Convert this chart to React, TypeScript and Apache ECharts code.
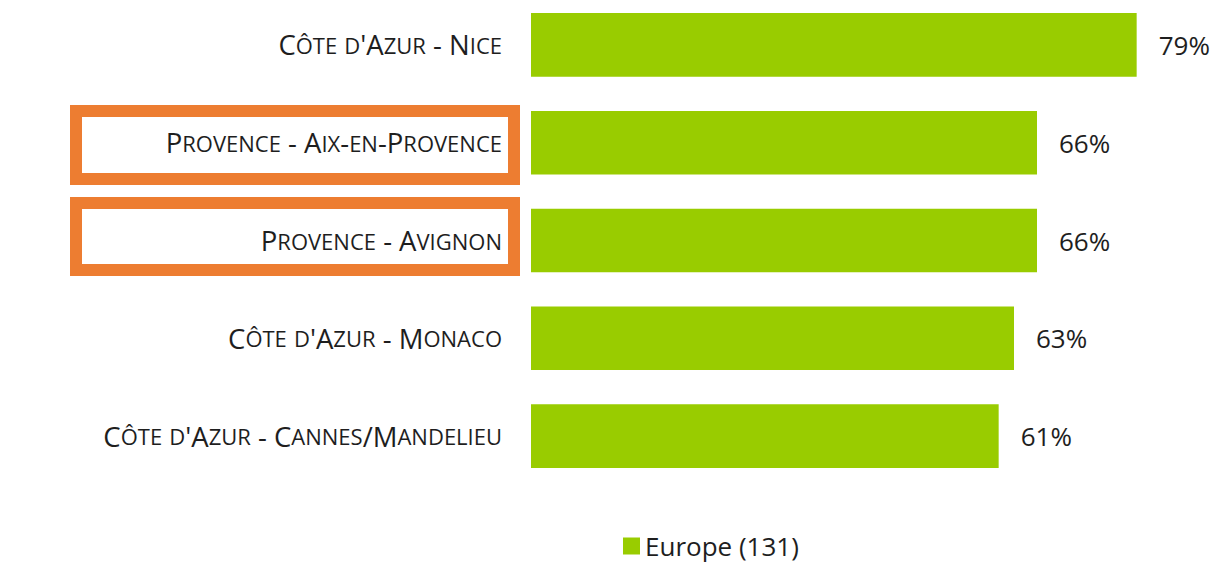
import React, { useEffect, useRef } from "react";
import * as echarts from "echarts";

const categories = [
  "Côte d'Azur - Nice",
  "Provence - Aix-en-Provence",
  "Provence - Avignon",
  "Côte d'Azur - Monaco",
  "Côte d'Azur - Cannes/Mandelieu",
];
const values = [79, 66, 66, 63, 61];
const seriesName = "Europe (131)";
const FONT = "'Open Sans', 'Noto Sans', sans-serif";

function smallCaps(s: string): string {
  let out = "";
  let cur = "";
  let curStyle = "";
  const flush = () => {
    if (cur) out += `{${curStyle}|${cur}}`;
    cur = "";
  };
  for (const ch of s) {
    const isLower = ch !== ch.toUpperCase();
    const st = isLower ? "s" : "b";
    if (st !== curStyle) {
      flush();
      curStyle = st;
    }
    cur += ch.toUpperCase();
  }
  flush();
  return out;
}

// the chart div is shifted up by 4px so the first bar can sit near the top edge
const SHIFT = 4;

export default function App() {
  const ref = useRef<HTMLDivElement>(null);
  useEffect(() => {
    const chart = echarts.init(ref.current!, null, { renderer: "svg" });
    chart.setOption({
      animation: false,
      textStyle: { fontFamily: FONT },
      grid: { left: 531, right: 0, top: 0, bottom: 80, containLabel: false },
      xAxis: { type: "value", min: 0, max: 90, show: false },
      yAxis: {
        type: "category",
        data: categories,
        inverse: true,
        axisLine: { show: false },
        axisTick: { show: false },
        axisLabel: {
          margin: 29,
          formatter: (v: string) => smallCaps(v),
          rich: {
            b: { fontSize: 27.5, color: "#1e1e1e", fontFamily: FONT },
            s: { fontSize: 22, color: "#1e1e1e", fontFamily: FONT },
          },
        },
      },
      legend: {
        top: 532,
        left: 618,
        itemWidth: 17,
        itemHeight: 17,
        itemGap: 8,
        textStyle: { fontSize: 26, lineHeight: 22, color: "#1e1e1e", fontFamily: FONT },
        data: [{ name: seriesName, icon: "rect" }],
      },
      series: [
        {
          name: seriesName,
          type: "bar",
          data: values,
          barCategoryGap: "35%",
          itemStyle: { color: "#99CC00" },
          label: {
            show: true,
            position: "right",
            distance: 22,
            formatter: "{c}%",
            fontSize: 26,
            color: "#1e1e1e",
            fontFamily: FONT,
          },
        },
      ],
      graphic: [
        {
          type: "rect",
          shape: { x: 76, y: 111 + SHIFT, width: 438, height: 68 },
          style: { fill: "none", stroke: "#ED7D31", lineWidth: 12 },
        },
        {
          type: "rect",
          shape: { x: 76, y: 203 + SHIFT, width: 438, height: 67 },
          style: { fill: "none", stroke: "#ED7D31", lineWidth: 12 },
        },
      ],
    });
    return () => chart.dispose();
  }, []);
  return (
    <div
      ref={ref}
      style={{ position: "absolute", left: 0, top: -SHIFT, width: 1221, height: 565 + SHIFT, background: "#fff" }}
    />
  );
}
